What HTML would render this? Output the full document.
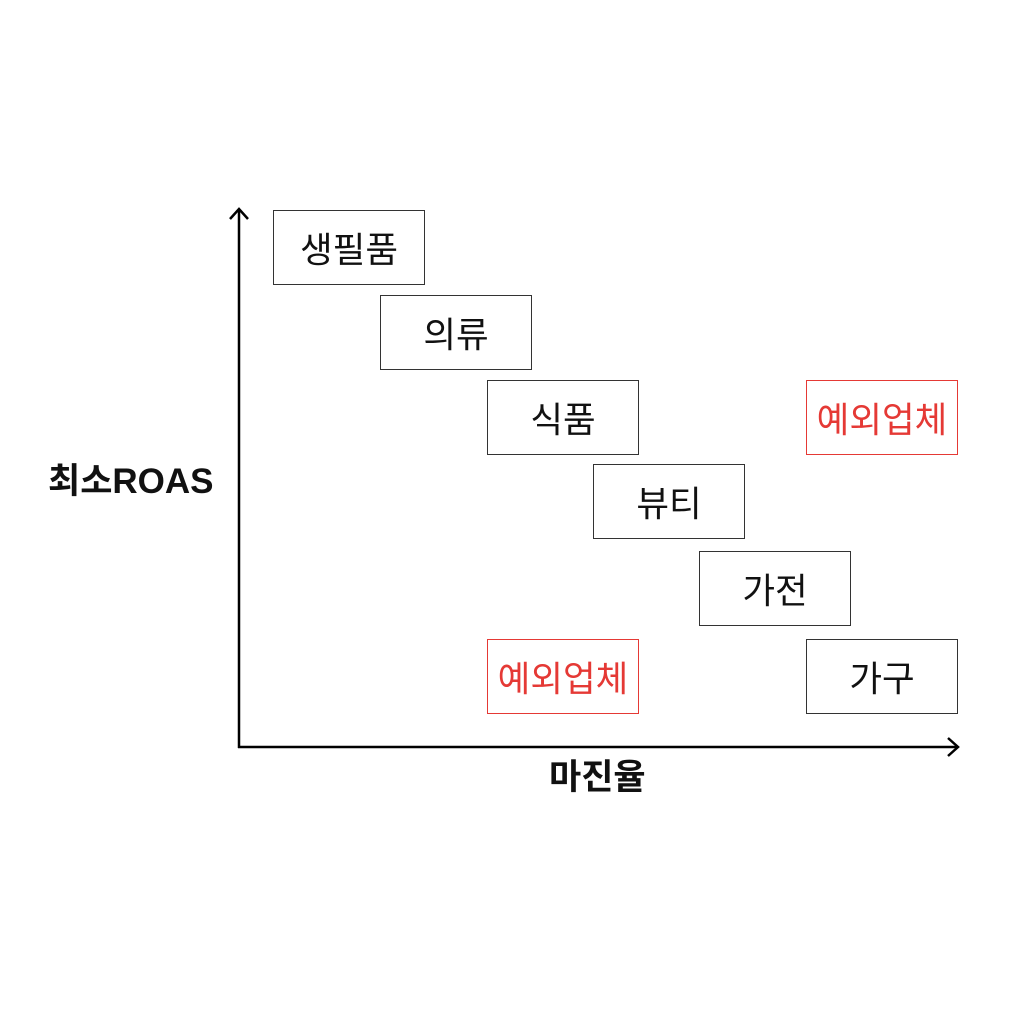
<!DOCTYPE html>
<html><head><meta charset="utf-8"><style>
body{margin:0;background:#fff;width:1024px;height:1024px;overflow:hidden;position:relative;font-family:"Liberation Sans","Noto Sans CJK KR",sans-serif}
.b{position:absolute;box-sizing:border-box;border:1px solid #333;width:152px;height:75px;display:flex;align-items:center;justify-content:center;font-size:35.5px;color:#111}
.r{border-color:#e53935;color:#e53935}
.l{position:absolute;font-weight:bold;font-size:35px;color:#111;white-space:nowrap;line-height:40px}
</style></head><body>
<svg width="1024" height="1024" style="position:absolute;left:0;top:0">
<g stroke="#000" stroke-width="2.5" fill="none">
<line x1="239" y1="209" x2="239" y2="748"/>
<line x1="238" y1="747" x2="958" y2="747"/>
<polyline points="230,219 239,209 248,219"/>
<polyline points="948,738 958,747 948,756"/>
</g></svg>
<div class="b" style="left:273px;top:210px">생필품</div>
<div class="b" style="left:380px;top:295px">의류</div>
<div class="b" style="left:487px;top:380px">식품</div>
<div class="b r" style="left:806px;top:380px">예외업체</div>
<div class="b" style="left:593px;top:464px">뷰티</div>
<div class="b" style="left:699px;top:551px">가전</div>
<div class="b r" style="left:487px;top:639px">예외업체</div>
<div class="b" style="left:806px;top:639px">가구</div>
<div class="l" style="left:48px;top:462px">최소ROAS</div>
<div class="l" style="left:549px;top:758px">마진율</div>
</body></html>
